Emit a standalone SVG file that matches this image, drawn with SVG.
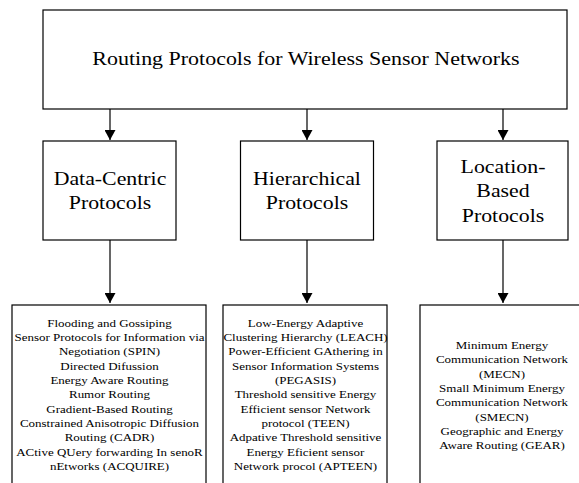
<svg xmlns="http://www.w3.org/2000/svg" width="579" height="483" viewBox="0 0 579 483">
<style>
.box{fill:#fff;stroke:#000;stroke-width:1.2}
.edge{stroke:#000;stroke-width:1.2;fill:none}
text{font-family:"Liberation Serif","Times New Roman",serif;fill:#000;text-anchor:middle}
.t0{font-size:18.3px}
.t1{font-size:18.5px}
.t2{font-size:11px}
</style>
<defs>
<marker id="ah" markerUnits="userSpaceOnUse" markerWidth="10" markerHeight="11" refX="10" refY="5.5" orient="auto" viewBox="0 0 10 11">
<path d="M0,0 L10,5.5 L0,11 Z" fill="#000"/>
</marker>
</defs>
<rect width="579" height="483" fill="#fff"/>
<g id="connectors">
<line class="edge" x1="110" y1="109" x2="110" y2="140" marker-end="url(#ah)"/>
<line class="edge" x1="307" y1="109" x2="307" y2="140" marker-end="url(#ah)"/>
<line class="edge" x1="503" y1="109" x2="503" y2="140" marker-end="url(#ah)"/>
<line class="edge" x1="110" y1="240" x2="110" y2="303" marker-end="url(#ah)"/>
<line class="edge" x1="307" y1="240" x2="307" y2="303" marker-end="url(#ah)"/>
<line class="edge" x1="503" y1="240" x2="503" y2="303" marker-end="url(#ah)"/>
</g>
<g id="root">
<rect class="box" x="43" y="10" width="524" height="99"/>
<text class="t0" transform="translate(306,65) scale(1.2,1)">Routing Protocols for Wireless Sensor Networks</text>
</g>
<g id="data-centric">
<rect class="box" x="43" y="141" width="133" height="99"/>
<text class="t1" transform="translate(110,185) scale(1.18,1)"><tspan x="0" y="0">Data-Centric</tspan><tspan x="0" y="24.5">Protocols</tspan></text>
</g>
<g id="hierarchical">
<rect class="box" x="240.5" y="141" width="133" height="99"/>
<text class="t1" transform="translate(307,185) scale(1.18,1)"><tspan x="0" y="0">Hierarchical</tspan><tspan x="0" y="24.5">Protocols</tspan></text>
</g>
<g id="location">
<rect class="box" x="437" y="141" width="131" height="99"/>
<text class="t1" transform="translate(503,173) scale(1.18,1)"><tspan x="0" y="0">Location-</tspan><tspan x="0" y="24.5">Based</tspan><tspan x="0" y="49">Protocols</tspan></text>
</g>
<g id="data-centric-list">
<rect class="box" x="12" y="305" width="194" height="190"/>
<text class="t2" transform="translate(109.5,326.7) scale(1.18,1)"><tspan x="0" y="0">Flooding and Gossiping</tspan><tspan x="0" y="14.33">Sensor Protocols for Information via</tspan><tspan x="0" y="28.66">Negotiation (SPIN)</tspan><tspan x="0" y="43">Directed Difussion</tspan><tspan x="0" y="57.3">Energy Aware Routing</tspan><tspan x="0" y="71.6">Rumor Routing</tspan><tspan x="0" y="86">Gradient-Based Routing</tspan><tspan x="0" y="100.3">Constrained Anisotropic Diffusion</tspan><tspan x="0" y="114.6">Routing (CADR)</tspan><tspan x="0" y="129">ACtive QUery forwarding In senoR</tspan><tspan x="0" y="143.3">nEtworks (ACQUIRE)</tspan></text>
</g>
<g id="hierarchical-list">
<rect class="box" x="223" y="305" width="164" height="190"/>
<text class="t2" transform="translate(305.5,326.7) scale(1.18,1)"><tspan x="0" y="0">Low-Energy Adaptive</tspan><tspan x="0" y="14.33">Clustering Hierarchy (LEACH)</tspan><tspan x="0" y="28.66">Power-Efficient GAthering in</tspan><tspan x="0" y="43">Sensor Information Systems</tspan><tspan x="0" y="57.3">(PEGASIS)</tspan><tspan x="0" y="71.6">Threshold sensitive Energy</tspan><tspan x="0" y="86">Efficient sensor Network</tspan><tspan x="0" y="100.3">protocol (TEEN)</tspan><tspan x="0" y="114.6">Adpative Threshold sensitive</tspan><tspan x="0" y="129">Energy Eficient sensor</tspan><tspan x="0" y="143.3">Network procol (APTEEN)</tspan></text>
</g>
<g id="location-list">
<rect class="box" x="420" y="305" width="170" height="190"/>
<text class="t2" transform="translate(502,349) scale(1.18,1)"><tspan x="0" y="0">Minimum Energy</tspan><tspan x="0" y="14.33">Communication Network</tspan><tspan x="0" y="28.66">(MECN)</tspan><tspan x="0" y="43">Small Minimum Energy</tspan><tspan x="0" y="57.3">Communication Network</tspan><tspan x="0" y="71.6">(SMECN)</tspan><tspan x="0" y="86">Geographic and Energy</tspan><tspan x="0" y="100.3">Aware Routing (GEAR)</tspan></text>
</g>
</svg>
